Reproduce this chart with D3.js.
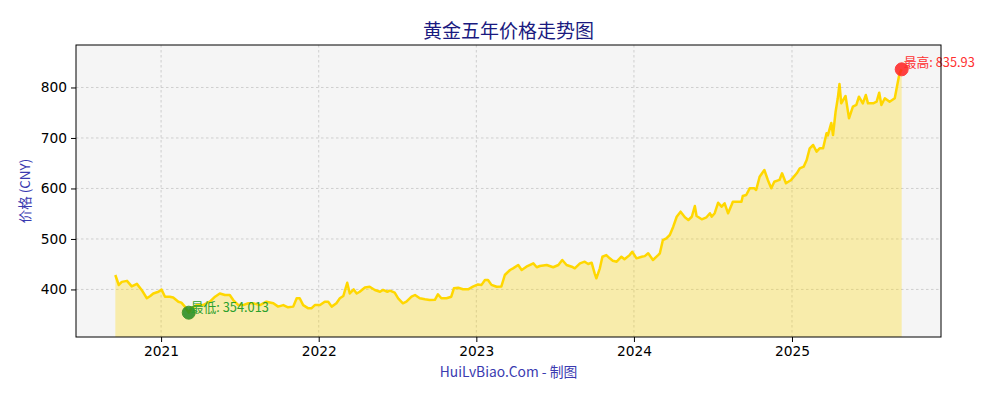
<!DOCTYPE html>
<html><head><meta charset="utf-8">
<script src="https://cdn.jsdelivr.net/npm/d3@7"></script>
<style>body{margin:0;background:#fff}svg{display:block}</style>
</head><body>
<svg id="c" width="1000" height="400"></svg>
<script>
const dates = ["2020-09-17","2020-09-25","2020-10-02","2020-10-14","2020-10-25","2020-11-06","2020-11-17","2020-11-29","2020-12-07","2020-12-14","2020-12-26","2021-01-02","2021-01-10","2021-01-21","2021-01-29","2021-02-10","2021-02-17","2021-02-25","2021-03-06","2021-03-12","2021-03-24","2021-04-08","2021-04-24","2021-05-06","2021-05-17","2021-05-29","2021-06-09","2021-06-17","2021-06-29","2021-07-10","2021-07-22","2021-08-02","2021-08-18","2021-09-02","2021-09-18","2021-09-29","2021-10-11","2021-10-22","2021-11-03","2021-11-11","2021-11-18","2021-11-26","2021-12-08","2021-12-15","2021-12-23","2022-01-04","2022-01-15","2022-01-23","2022-01-31","2022-02-11","2022-02-19","2022-02-27","2022-03-08","2022-03-14","2022-03-23","2022-03-30","2022-04-06","2022-04-18","2022-04-29","2022-05-11","2022-05-23","2022-05-30","2022-06-09","2022-06-15","2022-06-26","2022-07-04","2022-07-15","2022-07-23","2022-08-04","2022-08-12","2022-08-23","2022-09-04","2022-09-15","2022-09-27","2022-10-04","2022-10-12","2022-10-24","2022-11-04","2022-11-10","2022-11-20","2022-12-01","2022-12-13","2022-12-24","2023-01-05","2023-01-13","2023-01-21","2023-01-28","2023-02-05","2023-02-17","2023-02-28","2023-03-08","2023-03-20","2023-03-27","2023-04-08","2023-04-16","2023-04-27","2023-05-13","2023-05-21","2023-05-28","2023-06-13","2023-06-28","2023-07-10","2023-07-19","2023-07-29","2023-08-10","2023-08-17","2023-08-29","2023-09-09","2023-09-17","2023-09-25","2023-10-02","2023-10-06","2023-10-14","2023-10-20","2023-10-29","2023-11-06","2023-11-13","2023-11-22","2023-12-03","2023-12-10","2023-12-22","2023-12-28","2024-01-07","2024-01-19","2024-01-26","2024-02-03","2024-02-14","2024-02-26","2024-03-01","2024-03-08","2024-03-16","2024-03-24","2024-04-01","2024-04-09","2024-04-18","2024-04-28","2024-05-06","2024-05-14","2024-05-21","2024-05-25","2024-06-06","2024-06-17","2024-06-25","2024-06-29","2024-07-06","2024-07-14","2024-07-22","2024-07-29","2024-08-06","2024-08-14","2024-08-17","2024-09-06","2024-09-09","2024-09-17","2024-09-25","2024-10-06","2024-10-10","2024-10-18","2024-10-29","2024-11-06","2024-11-14","2024-11-21","2024-12-03","2024-12-09","2024-12-18","2024-12-30","2025-01-12","2025-01-19","2025-01-28","2025-02-04","2025-02-11","2025-02-19","2025-02-27","2025-03-06","2025-03-14","2025-03-22","2025-03-25","2025-04-02","2025-04-06","2025-04-12","2025-04-17","2025-04-21","2025-04-25","2025-05-05","2025-05-13","2025-05-22","2025-05-30","2025-06-05","2025-06-14","2025-06-21","2025-06-26","2025-07-08","2025-07-16","2025-07-22","2025-07-27","2025-08-04","2025-08-15","2025-08-27","2025-09-01","2025-09-07","2025-09-12"];
const prices = [428.6,408.8,415,417,406,411,399,382.5,387,392,395.5,400,385.6,385.6,384,375.7,373.8,366,354.013,362.6,369,369,375.7,385.6,392,389,389,379,369,369,372.6,372.6,369,375.7,372.6,366,369,364.6,366,382.5,382.5,369,362.6,362.6,369,369,375.7,375.7,366,372.6,382.5,387,413.3,392,400,392,395.5,404,405.4,399,395.5,399,395.5,397.5,393.6,382.5,372.6,375.7,385.6,389,382.5,380.4,379,379.5,390.4,382.5,382.5,385.6,402.3,403.4,400.3,400.3,405.4,410,409,418.7,418.7,409,405.4,406,428.6,438.5,441.8,448.4,438.5,445,451.7,444,446.4,448.4,444,448.4,458.3,448.4,445,441.8,451.7,455,450.4,453,432,422,441.8,464.8,468,461.6,457,455,464.8,459.7,468,474.7,461.6,464.8,466,471.6,458.3,468,471.6,497.9,501.3,507.8,524.3,544,554,542.9,537.5,544,565.2,545.4,538.9,542.9,550.8,544,551,571.8,563.9,570.6,550.8,567.2,573.8,573.8,585,587,600.3,600.3,597,623.3,636.6,616.9,600.3,613.4,616.9,630,610.2,616.9,630,639.9,643.1,656.3,679.5,686.1,672.8,679.5,679.5,709.2,705,729.8,705.9,752,778.6,806.9,768.6,783.1,739,762,765.3,781.7,768.6,785,768.6,768.6,771.8,789.7,765.3,778.6,771.8,778.6,801.5,828,835.93];
const yTicks = [400,500,600,700,800];
const xTickYears = ["2021","2022","2023","2024","2025"];
const titleText = "黄金五年价格走势图";
const yLabel = "价格 (CNY)";
const xLabel = "HuiLvBiao.Com - 制图";

const parse = d3.timeParse("%Y-%m-%d");
const data = dates.map((d,i)=>({date:parse(d), v:prices[i]}));
const L=76,R=941,T=45,B=337;
const svg = d3.select("#c");

const [d0,d1] = d3.extent(data,d=>d.date);
const span = d1-d0;
const x = d3.scaleTime().domain([new Date(+d0-span*0.05), new Date(+d1+span*0.05)]).range([L,R]);
const vmin = d3.min(prices), vmax = d3.max(prices), rng = vmax-vmin;
const y = d3.scaleLinear().domain([vmin-0.1*rng, vmax+0.1*rng]).range([B,T]);

svg.append("rect").attr("x",L).attr("y",T).attr("width",R-L).attr("height",B-T).attr("fill","#f5f5f5");

const xt = xTickYears.map(s=>parse(s+"-01-01"));
const grid = svg.append("g").attr("stroke","#bdbdbd").attr("stroke-width",0.7).attr("stroke-dasharray","2.5,2.5");
grid.selectAll(".gx").data(xt).join("line").attr("x1",d=>x(d)).attr("x2",d=>x(d)).attr("y1",T).attr("y2",B);
grid.selectAll(".gy").data(yTicks).join("line").attr("x1",L).attr("x2",R).attr("y1",d=>y(d)).attr("y2",d=>y(d));

const area = d3.area().x(d=>x(d.date)).y0(B).y1(d=>y(d.v));
svg.append("path").datum(data).attr("d",area).attr("fill","#FFD700").attr("fill-opacity",0.3);
const line = d3.line().x(d=>x(d.date)).y(d=>y(d.v));
svg.append("path").datum(data).attr("d",line).attr("fill","none").attr("stroke","#FFD700").attr("stroke-width",2.5).attr("stroke-linejoin","round");

const minD = data.find(d=>d.v===vmin), maxD = data.find(d=>d.v===vmax);
svg.append("circle").attr("cx",x(minD.date)).attr("cy",y(minD.v)).attr("r",6.5).attr("fill","#228B22").attr("fill-opacity",0.85).attr("stroke","#4a9a2a").attr("stroke-width",1);
svg.append("circle").attr("cx",x(maxD.date)).attr("cy",y(maxD.v)).attr("r",6.5).attr("fill","#ff2020").attr("fill-opacity",0.85).attr("stroke","#ff4040").attr("stroke-width",1);
svg.append("text").attr("x",x(minD.date)+2).attr("y",y(minD.v)-1).attr("font-family","Noto Sans CJK SC").attr("font-size",12.8).attr("fill","#2ca02c").text("最低: "+vmin);
svg.append("text").attr("x",x(maxD.date)+2).attr("y",y(maxD.v)-2).attr("font-family","Noto Sans CJK SC").attr("font-size",12.8).attr("fill","#ff3030").text("最高: "+vmax);

svg.append("rect").attr("x",L).attr("y",T).attr("width",R-L).attr("height",B-T).attr("fill","none").attr("stroke","#000").attr("stroke-width",1);

const ax = svg.append("g").attr("transform",`translate(0,${B})`).call(d3.axisBottom(x).tickValues(xt).tickFormat(d3.timeFormat("%Y")).tickSize(5).tickPadding(4));
const ay = svg.append("g").attr("transform",`translate(${L},0)`).call(d3.axisLeft(y).tickValues(yTicks).tickSize(5).tickPadding(4));
[ax,ay].forEach(a=>{a.select(".domain").remove();a.selectAll("text").attr("font-family","DejaVu Sans").attr("font-size",13.8).attr("fill","#000");a.selectAll("line").attr("stroke","#000");});

svg.append("text").attr("x",(L+R)/2).attr("y",38).attr("text-anchor","middle").attr("font-family","Noto Sans CJK SC").attr("font-size",19).attr("fill","#1a1a80").text(titleText);
svg.append("text").attr("transform",`translate(30,${(T+B)/2}) rotate(-90)`).attr("text-anchor","middle").attr("font-family","Noto Sans CJK SC").attr("font-size",13.5).attr("fill","#3a3ab0").text(yLabel);
svg.append("text").attr("x",(L+R)/2).attr("y",377).attr("text-anchor","middle").attr("font-family","Noto Sans CJK SC").attr("font-size",13.8).attr("fill","#3a3ab0").text(xLabel);
</script>
</body></html>
